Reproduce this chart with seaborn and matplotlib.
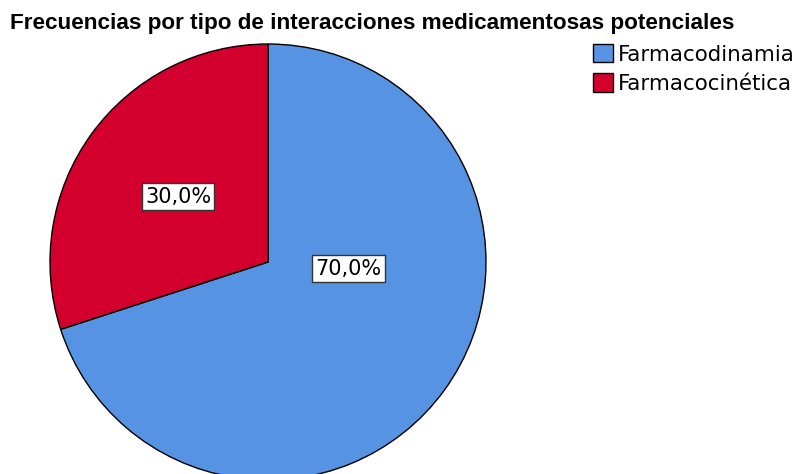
import matplotlib
matplotlib.use("Agg")
import matplotlib.pyplot as plt
import seaborn as sns

categorias = ["Farmacodinamia", "Farmacocinética"]
porcentajes = [70.0, 30.0]
colores = ["#5694E3", "#D3002E"]
titulo = "Frecuencias por tipo de interacciones medicamentosas potenciales"

sns.set_theme(style="white")
plt.rcParams["font.family"] = ["DejaVu Sans"]
plt.rcParams["text.color"] = "black"

fig = plt.figure(figsize=(7.98, 4.74), dpi=100)
ax = fig.add_axes([50 / 798, -6 / 474, 436 / 798, 436 / 474])

wedges, textos, autotextos = ax.pie(
    porcentajes,
    colors=sns.color_palette(colores),
    startangle=90,
    counterclock=False,
    autopct=lambda p: f"{p:.1f}%".replace(".", ","),
    pctdistance=0.51,
    wedgeprops=dict(edgecolor="black", linewidth=1),
    textprops=dict(fontsize=15, color="black"),
)
ax.set_xlim(-1, 1)
ax.set_ylim(-1, 1)
ax.set_aspect("equal")
for w in wedges:
    w.set_clip_on(False)

# la etiqueta del 70% no está en el centro del sector
autotextos[0].set_position((0.37, -0.03))
for t in autotextos:
    t.set_bbox(dict(facecolor="white", edgecolor="#333333", linewidth=1, boxstyle="square,pad=0.16"))

fig.text(10 / 798, 1 - 23 / 474, titulo, fontsize=16.2, fontweight="bold",
         family=["Liberation Sans"], color="black", va="center", ha="left")

leg = fig.legend(wedges, categorias, loc="upper left",
                 bbox_to_anchor=(593 / 798, 1 - 44 / 474), frameon=False,
                 handlelength=0.95, handleheight=0.95, handletextpad=0.2,
                 labelspacing=0.4, borderaxespad=0, borderpad=0,
                 prop=dict(size=15.4))
for txt in leg.get_texts():
    txt.set_color("black")

fig.savefig("out.png", dpi=100)
